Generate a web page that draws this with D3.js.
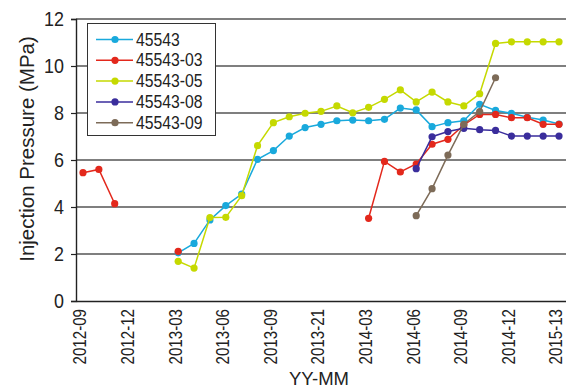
<!DOCTYPE html>
<html>
<head>
<meta charset="utf-8">
<script src="https://cdn.jsdelivr.net/npm/d3@7"></script>
<style>
  body { margin: 0; background: #fff; }
  text { font-family: "Liberation Sans", Arial, sans-serif; fill: #222; }
</style>
</head>
<body>
<div id="canvas"></div>
<script>
const MARGIN = { LEFT: 76, RIGHT: 0, TOP: 19, BOTTOM: 88 };
const WIDTH = 566 - MARGIN.LEFT - MARGIN.RIGHT;
const HEIGHT = 389 - MARGIN.TOP - MARGIN.BOTTOM;

// month index 0 = 2012-09, one step per month
const tickIndex = [0, 3, 6, 9, 12, 15, 18, 21, 24, 27, 30];
const tickLabels = ['2012-09', '2012-12', '2013-03', '2013-06', '2013-09', '2013-21',
  '2014-03', '2014-06', '2014-09', '2014-12', '2015-13'];
const yTicks = [0, 2, 4, 6, 8, 10, 12];

const names = ['45543', '45543-03', '45543-05', '45543-08', '45543-09'];
const colors = ['#19a9dc', '#e3281c', '#c5d900', '#3a2d9c', '#7d6b58'];

const s45543 = [null, null, null, null, null, null,
  2.05, 2.45, 3.45, 4.06, 4.55, 6.03, 6.40, 7.02, 7.38, 7.52, 7.67, 7.70, 7.67, 7.73,
  8.21, 8.13, 7.42, 7.59, 7.67, 8.37, 8.11, 7.99, 7.82, 7.70, 7.53];
const s03 = [5.46, 5.60, 4.14, null, null, null, 2.11,
  null, null, null, null, null, null, null, null, null, null, null,
  3.52, 5.94, 5.49, 5.83, 6.67, 6.88, 7.49, 7.94, 7.94, 7.80, 7.80, 7.52, 7.52];
const s05 = [null, null, null, null, null, null,
  1.69, 1.40, 3.55, 3.56, 4.48, 6.61, 7.59, 7.84, 7.99, 8.07, 8.30, 8.01, 8.24, 8.58,
  8.98, 8.47, 8.89, 8.47, 8.30, 8.82, 10.96, 11.03, 11.03, 11.03, 11.03];
const s08 = [null, null, null, null, null, null, null, null, null, null, null,
  null, null, null, null, null, null, null, null, null, null,
  5.63, 6.99, 7.21, 7.35, 7.29, 7.26, 7.02, 7.02, 7.02, 7.02];
const s09 = [null, null, null, null, null, null, null, null, null, null, null,
  null, null, null, null, null, null, null, null, null, null,
  3.63, 4.78, 6.21, 7.52, 8.06, 9.50, null, null, null, null];

const series = [s45543, s03, s05, s08, s09];

const svg = d3.select('#canvas').append('svg')
  .attr('width', 566)
  .attr('height', 389);

const g = svg.append('g')
  .attr('transform', `translate(${MARGIN.LEFT}, ${MARGIN.TOP})`);

const x = d3.scaleLinear()
  .domain([-0.44, 30.44])
  .range([0, WIDTH]);

const y = d3.scaleLinear()
  .domain([0, 12])
  .range([HEIGHT, 0]);

// grid lines
g.append('g')
  .selectAll('line')
  .data(yTicks.filter(d => d > 0))
  .enter().append('line')
    .attr('x1', 0)
    .attr('x2', WIDTH)
    .attr('y1', d => y(d))
    .attr('y2', d => y(d))
    .attr('stroke', '#555')
    .attr('stroke-width', 1.6);

// y axis (labels squeezed a bit, the source font is narrow)
const yAxis = g.append('g')
  .attr('class', 'y-axis')
  .call(d3.axisLeft(y).tickValues(yTicks).tickSize(5).tickPadding(8));
yAxis.select('.domain').attr('stroke', '#222').attr('stroke-width', 1.4);
yAxis.selectAll('.tick line').attr('stroke', '#222').attr('stroke-width', 1.2);
yAxis.selectAll('text')
  .attr('font-size', '19.5px')
  .attr('fill', '#222')
  .attr('transform', 'scale(0.92, 1)');

// x axis
const xAxis = g.append('g')
  .attr('class', 'x-axis')
  .attr('transform', `translate(0, ${HEIGHT})`)
  .call(d3.axisBottom(x).tickValues(tickIndex)
    .tickFormat((d, i) => tickLabels[i]).tickSize(0).tickPadding(0));
xAxis.select('.domain').attr('stroke', '#222').attr('stroke-width', 1.6);
xAxis.selectAll('text')
  .attr('font-size', '18px')
  .attr('fill', '#222')
  .attr('text-anchor', 'end')
  .attr('dy', '0.16em')
  .attr('x', -9.5)
  .attr('y', 0)
  .attr('transform', 'rotate(-90) scale(0.84, 1)');

// axis titles
svg.append('text')
  .attr('x', 319)
  .attr('y', 385)
  .attr('text-anchor', 'middle')
  .attr('font-size', '18.5px')
  .text('YY-MM');

svg.append('text')
  .attr('transform', 'translate(34, 149) rotate(-90)')
  .attr('text-anchor', 'middle')
  .attr('font-size', '20.5px')
  .text('Injection Pressure (MPa)');

// lines and points
const line = d3.line()
  .defined(d => d != null)
  .x((d, i) => x(i))
  .y(d => y(d));

series.forEach((s, k) => {
  const sg = g.append('g');
  sg.append('path')
    .datum(s)
    .attr('d', line)
    .attr('fill', 'none')
    .attr('stroke', colors[k])
    .attr('stroke-width', 1.5);
  sg.selectAll('circle')
    .data(s.map((v, i) => ({ v, i })).filter(d => d.v != null))
    .enter().append('circle')
      .attr('cx', d => x(d.i))
      .attr('cy', d => y(d.v))
      .attr('r', 3.6)
      .attr('fill', colors[k]);
});

// legend
const legend = svg.append('g');
legend.append('rect')
  .attr('x', 87.5)
  .attr('y', 23.5)
  .attr('width', 128)
  .attr('height', 112)
  .attr('fill', '#fff')
  .attr('stroke', '#333')
  .attr('stroke-width', 1);

names.forEach((name, k) => {
  const ly = 39.5 + k * 20.8;
  legend.append('line')
    .attr('x1', 96).attr('x2', 133)
    .attr('y1', ly).attr('y2', ly)
    .attr('stroke', colors[k])
    .attr('stroke-width', 1.5);
  legend.append('circle')
    .attr('cx', 115).attr('cy', ly).attr('r', 3.6)
    .attr('fill', colors[k]);
  legend.append('text')
    .attr('transform', `translate(136, ${ly}) scale(0.9, 1)`)
    .attr('dy', '0.35em')
    .attr('font-size', '17.5px')
    .text(name);
});
</script>
</body>
</html>
